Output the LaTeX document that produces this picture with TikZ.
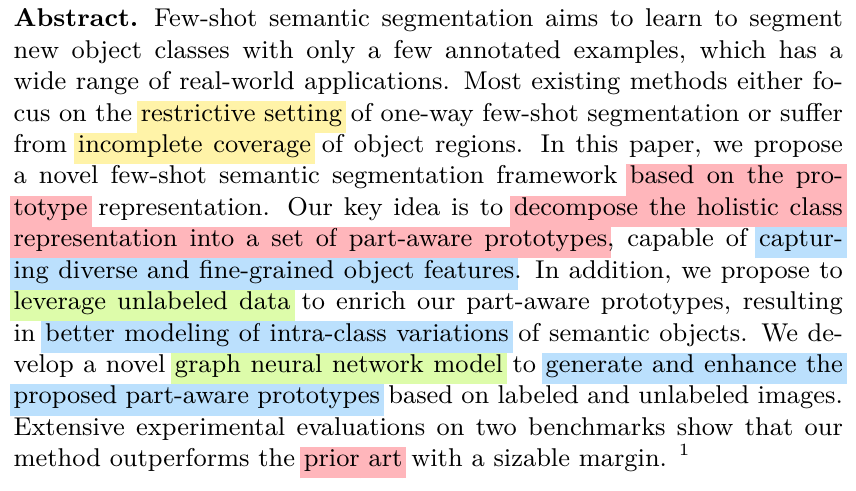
\documentclass[tikz,border=0pt]{standalone}
\usepackage{tikz}
\usepackage{xcolor}
\definecolor{yellowmark}{HTML}{FFF3A8}
\definecolor{pinkmark}{HTML}{FFB6BB}
\definecolor{bluemark}{HTML}{BBE0FD}
\definecolor{greenmark}{HTML}{DDFCAA}
\newlength\tw
\setlength\tw{290.25pt}
\def\hlht{6.9pt}
\def\hldp{4.1pt}
\def\hlpad{1.4pt}
% one justified line of the abstract
\newcommand\fullline[1]{\hbox to \tw{#1}}
% highlighted words: coloured boxes behind, stretchable coloured spaces
\newcommand\hlword[1]{\setbox0\hbox{#1}\rlap{\color{\hlcol}\vrule height\hlht depth\hldp width\wd0}\box0}
\newcommand\hlspace{{\color{\hlcol}\leaders\vrule height\hlht depth\hldp\hskip\fontdimen2\font plus\fontdimen3\font minus\fontdimen4\font}}
\def\hlrun#1 #2\relax{\hlword{#1}\ifx\relax#2\relax\else\hlspace\hlrun#2\relax\fi}
\newcommand\hlt[2]{\def\hlcol{#1}%
  \llap{\color{#1}\vrule height\hlht depth\hldp width\hlpad}%
  \hlrun#2 \relax%
  \rlap{\color{#1}\vrule height\hlht depth\hldp width\hlpad}}
\begin{document}
\begin{tikzpicture}
    \tikzstyle{textline}=[anchor=base west,inner sep=0pt,font=\small]
    \useasboundingbox (0,0) rectangle (299.6pt,-171.5pt);
    \begin{scope}[shift={(4.55pt,-9.35pt)}]
      \node[textline] (l1) at (0,0pt) {\fullline{\textbf{Abstract.}\hskip5.5pt Few-shot semantic segmentation aims to learn to segment}};
      \node[textline] (l2) at (0,-11pt) {\fullline{new object classes with only a few annotated examples, which has a}};
      \node[textline] (l3) at (0,-22pt) {\fullline{wide range of real-world applications. Most existing methods either fo-}};
      \node[textline] (l4) at (0,-33pt) {\fullline{cus on the \hlt{yellowmark}{restrictive setting} of one-way few-shot segmentation or suffer}};
      \node[textline] (l5) at (0,-44pt) {\fullline{from \hlt{yellowmark}{incomplete coverage} of object regions. In this paper, we propose}};
      \node[textline] (l6) at (0,-55pt) {\fullline{a novel few-shot semantic segmentation framework \hlt{pinkmark}{based on the pro-}}};
      \node[textline] (l7) at (0,-66pt) {\fullline{\hlt{pinkmark}{totype} representation. Our key idea is to \hlt{pinkmark}{decompose the holistic class}}};
      \node[textline] (l8) at (0,-77pt) {\fullline{\hlt{pinkmark}{representation into a set of part-aware prototypes}, capable of \hlt{bluemark}{captur-}}};
      \node[textline] (l9) at (0,-88pt) {\fullline{\hlt{bluemark}{ing diverse and fine-grained object features}. In addition, we propose to}};
      \node[textline] (l10) at (0,-99pt) {\fullline{\hlt{greenmark}{leverage unlabeled data} to enrich our part-aware prototypes, resulting}};
      \node[textline] (l11) at (0,-110pt) {\fullline{in \hlt{bluemark}{better modeling of intra-class variations} of semantic objects. We de-}};
      \node[textline] (l12) at (0,-121pt) {\fullline{velop a novel \hlt{greenmark}{graph neural network model} to \hlt{bluemark}{generate and enhance the}}};
      \node[textline] (l13) at (0,-132pt) {\fullline{\hlt{bluemark}{proposed part-aware prototypes} based on labeled and unlabeled images.}};
      \node[textline] (l14) at (0,-143pt) {\fullline{Extensive experimental evaluations on two benchmarks show that our}};
      \node[textline] (l15) at (0,-154pt) {\fullline{method outperforms the \hlt{pinkmark}{prior art} with a sizable margin. $^1$\hfil}};
    \end{scope}
\end{tikzpicture}
\end{document}
